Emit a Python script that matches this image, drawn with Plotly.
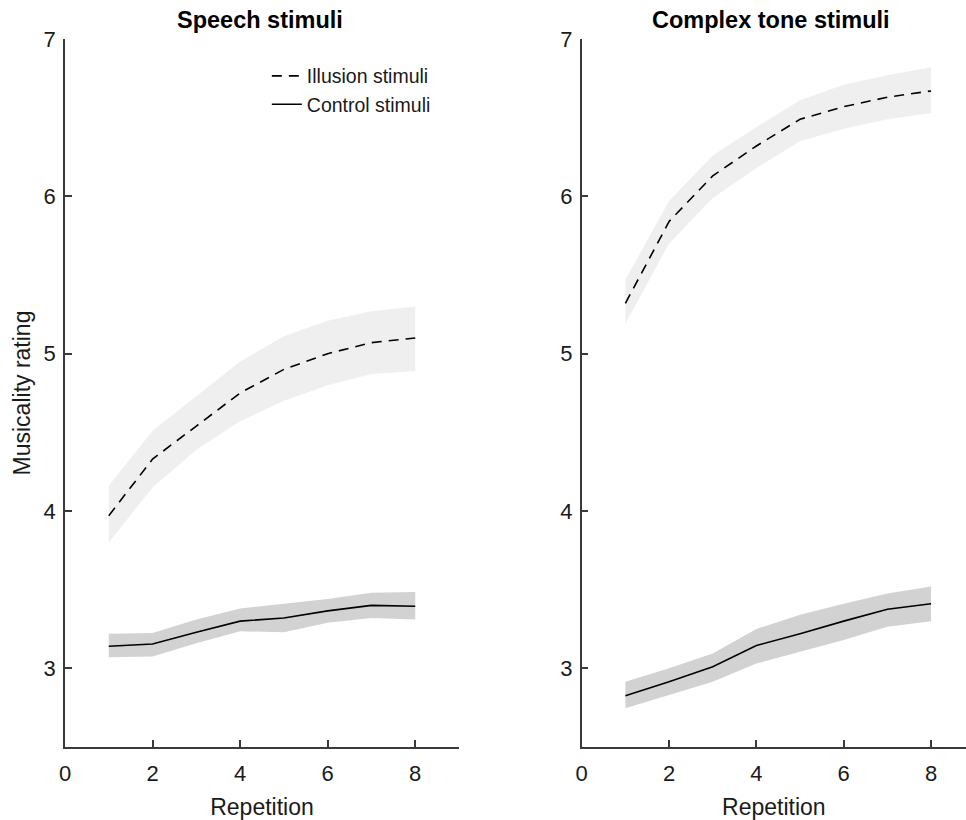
import plotly.graph_objects as go
from plotly.subplots import make_subplots

repetition = [1, 2, 3, 4, 5, 6, 7, 8]

# Speech stimuli
speech_illusion_mean = [3.97, 4.33, 4.54, 4.75, 4.90, 5.00, 5.07, 5.10]
speech_illusion_upper = [4.16, 4.51, 4.73, 4.95, 5.11, 5.21, 5.27, 5.30]
speech_illusion_lower = [3.80, 4.15, 4.39, 4.57, 4.70, 4.80, 4.87, 4.89]
speech_control_mean = [3.14, 3.155, 3.23, 3.30, 3.32, 3.365, 3.40, 3.395]
speech_control_upper = [3.22, 3.225, 3.31, 3.38, 3.41, 3.44, 3.48, 3.485]
speech_control_lower = [3.07, 3.075, 3.16, 3.235, 3.23, 3.29, 3.32, 3.31]

# Complex tone stimuli
tone_illusion_mean = [5.32, 5.84, 6.13, 6.32, 6.49, 6.57, 6.63, 6.67]
tone_illusion_upper = [5.47, 5.97, 6.26, 6.44, 6.61, 6.71, 6.77, 6.82]
tone_illusion_lower = [5.19, 5.70, 5.99, 6.18, 6.35, 6.43, 6.49, 6.53]
tone_control_mean = [2.826, 2.915, 3.01, 3.145, 3.22, 3.30, 3.375, 3.41]
tone_control_upper = [2.915, 3.00, 3.095, 3.25, 3.34, 3.41, 3.475, 3.52]
tone_control_lower = [2.746, 2.83, 2.915, 3.03, 3.105, 3.18, 3.265, 3.30]

titles = ["Speech stimuli", "Complex tone stimuli"]
x_ticks = [0, 2, 4, 6, 8]
y_ticks = [3, 4, 5, 6, 7]

FONT = "Liberation Sans, Arial, Helvetica, sans-serif"
ILL_FILL = "#efefef"
CTL_FILL = "#d2d2d2"
AXIS_COL = "#3a3a3a"

fig = make_subplots(rows=1, cols=2, subplot_titles=titles,
                    horizontal_spacing=0.136)

panels = [
    (speech_illusion_mean, speech_illusion_upper, speech_illusion_lower,
     speech_control_mean, speech_control_upper, speech_control_lower),
    (tone_illusion_mean, tone_illusion_upper, tone_illusion_lower,
     tone_control_mean, tone_control_upper, tone_control_lower),
]

for col, (im, iu, il, cm, cu, cl) in enumerate(panels, start=1):
    band_x = repetition + repetition[::-1]
    fig.add_trace(go.Scatter(x=band_x, y=iu + il[::-1], fill="toself",
                             fillcolor=ILL_FILL, line=dict(width=0),
                             mode="lines", showlegend=False, hoverinfo="skip"),
                  row=1, col=col)
    fig.add_trace(go.Scatter(x=band_x, y=cu + cl[::-1], fill="toself",
                             fillcolor=CTL_FILL, line=dict(width=0),
                             mode="lines", showlegend=False, hoverinfo="skip"),
                  row=1, col=col)
    fig.add_trace(go.Scatter(x=repetition, y=im, mode="lines",
                             name="Illusion stimuli",
                             line=dict(color="black", width=1.6, dash="10px,7px"),
                             showlegend=(col == 1)),
                  row=1, col=col)
    fig.add_trace(go.Scatter(x=repetition, y=cm, mode="lines",
                             name="Control stimuli",
                             line=dict(color="black", width=1.6),
                             showlegend=(col == 1)),
                  row=1, col=col)

axis_common = dict(showline=True, linecolor=AXIS_COL, linewidth=1.5,
                   ticks="inside", ticklen=7, tickwidth=1.5, tickcolor=AXIS_COL,
                   showgrid=False, zeroline=False, automargin=False,
                   tickfont=dict(family=FONT, size=22, color="#1a1a1a"))

fig.update_xaxes(**axis_common, tickvals=x_ticks, ticklabelstandoff=6,
                 title=dict(text="Repetition", font=dict(family=FONT, size=23, color="#1a1a1a"),
                            standoff=14))
fig.update_xaxes(range=[0, 9], domain=[0, 0.4373], row=1, col=1)
fig.update_xaxes(range=[0, 8.8], domain=[0.5735, 1.0], row=1, col=2)
fig.update_yaxes(**axis_common, tickvals=y_ticks, range=[2.5, 7], ticklabelstandoff=3)
fig.update_yaxes(title=dict(text="Musicality rating",
                            font=dict(family=FONT, size=23, color="#1a1a1a"),
                            standoff=7), row=1, col=1)

for ann in fig.layout.annotations:
    ann.font = dict(family=FONT, size=23.5, color="black")
    ann.text = "<b>" + ann.text + "</b>"
    ann.yshift = 4

fig.update_layout(
    width=966, height=820,
    margin=dict(l=65, r=0, t=39, b=73),
    plot_bgcolor="white", paper_bgcolor="white",
    font=dict(family=FONT, color="#1a1a1a"),
    legend=dict(x=0.224, y=0.975, xanchor="left", yanchor="top",
                font=dict(family=FONT, size=19.5, color="#1a1a1a"),
                bgcolor="rgba(0,0,0,0)", tracegroupgap=0),
)

fig.write_html("out.html", config={"displayModeBar": False},
               post_script="document.body.style.margin='0';document.body.style.overflow='hidden';")
